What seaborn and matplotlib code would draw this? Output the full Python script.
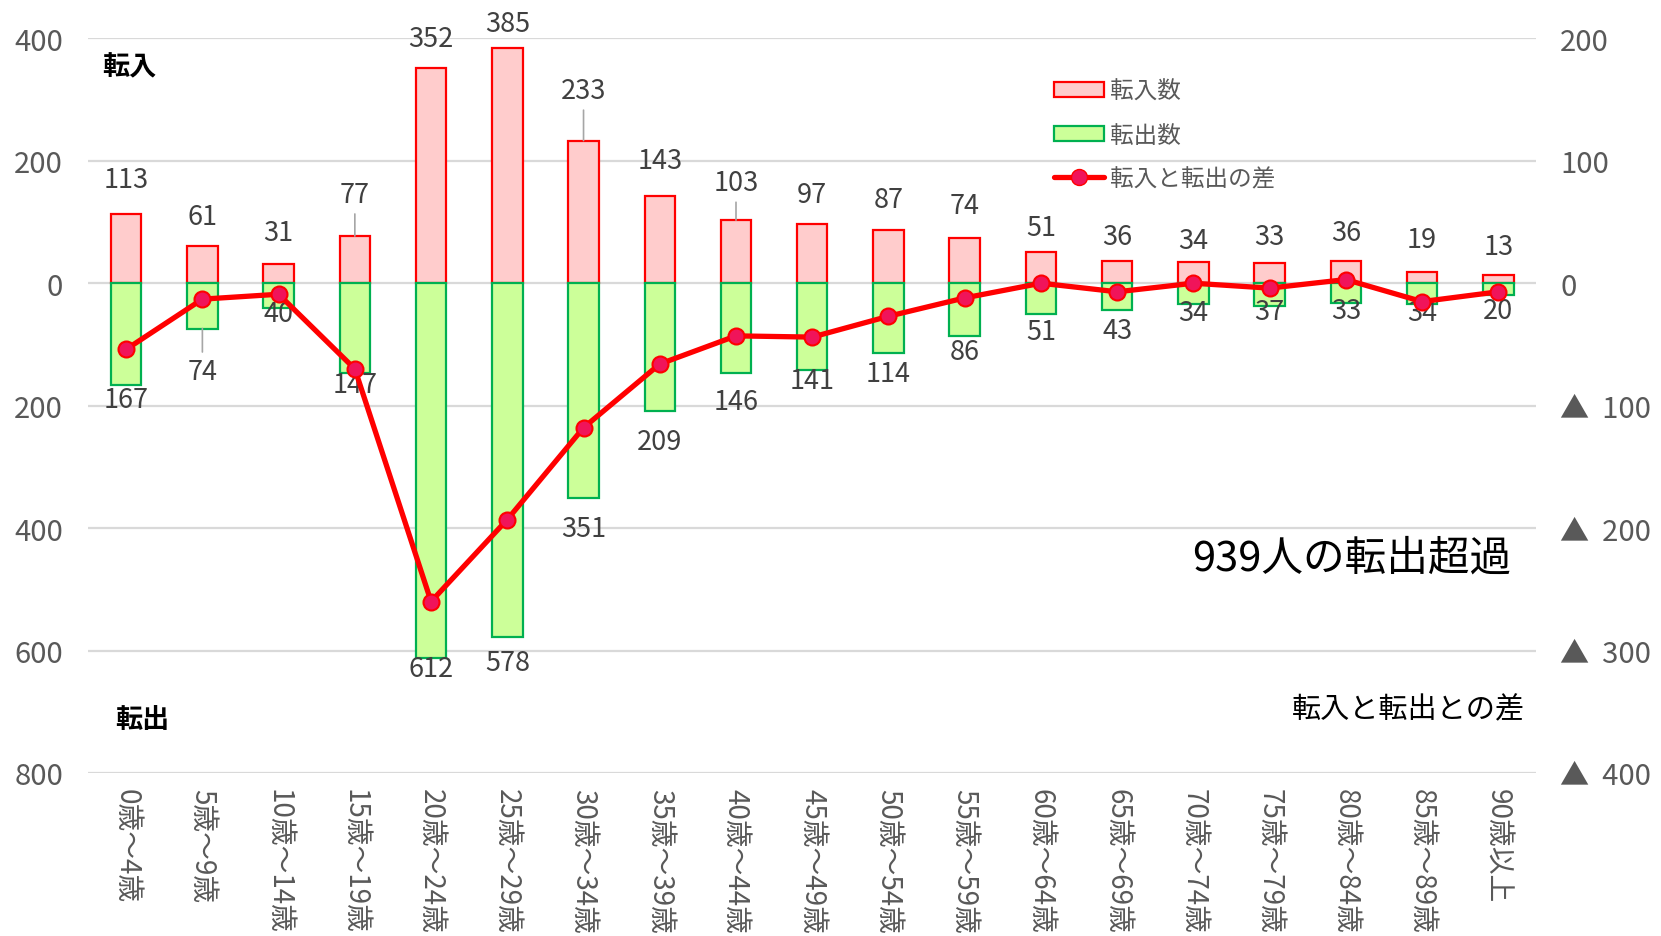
import numpy as np
import pandas as pd
import matplotlib
matplotlib.use("Agg")
import matplotlib.pyplot as plt
import seaborn as sns
from matplotlib.patches import Patch
from matplotlib.lines import Line2D
from matplotlib.ticker import FixedLocator, FixedFormatter

# ---- data ----
categories = ["0歳～4歳", "5歳～9歳", "10歳～14歳", "15歳～19歳", "20歳～24歳", "25歳～29歳",
              "30歳～34歳", "35歳～39歳", "40歳～44歳", "45歳～49歳", "50歳～54歳", "55歳～59歳",
              "60歳～64歳", "65歳～69歳", "70歳～74歳", "75歳～79歳", "80歳～84歳", "85歳～89歳",
              "90歳以上"]
inflow = [113, 61, 31, 77, 352, 385, 233, 143, 103, 97, 87, 74, 51, 36, 34, 33, 36, 19, 13]
outflow = [167, 74, 40, 147, 612, 578, 351, 209, 146, 141, 114, 86, 51, 43, 34, 37, 33, 34, 20]
difference = [i - o for i, o in zip(inflow, outflow)]

left_ticks = [400, 200, 0, -200, -400, -600, -800]
right_ticks = [200, 100, 0, -100, -200, -300, -400]

# label layout (offsets in points)
in_label_offset = [25, 21, 23, 30, 21, 17, 36, 25, 27, 21, 22, 23, 18, 18, 16, 19, 21, 23, 21]
out_label_offset = [10, 31, 4, 8, 8, 18, 22, 22, 21, 8, 15, 11, 12, 15, 6, 4, 5, 6, 11]
in_leader = {3, 6, 8}
out_leader = {1}

# ---- style ----
sns.set_style("white")
plt.rcParams['font.family'] = ['Noto Sans CJK JP', 'DejaVu Sans']

PINK = "#FFCCCC"
RED = "#FF0000"
GREEN_FILL = "#CCFF99"
GREEN_EDGE = "#00B050"
TICK_C = "#595959"
LABEL_C = "#404040"
MARK_FACE = "#F0145A"

fig = plt.figure(figsize=(16.61, 9.37), dpi=100)
ax = fig.add_axes([0.053, 0.174, 0.872, 0.784])

df = pd.DataFrame({"cat": categories, "in": inflow,
                   "out": [-v for v in outflow], "diff": difference})

sns.barplot(data=df, x="cat", y="in", ax=ax, color=PINK, edgecolor=RED,
            linewidth=1.6, width=0.4, saturation=1)
sns.barplot(data=df, x="cat", y="out", ax=ax, color=GREEN_FILL, edgecolor=GREEN_EDGE,
            linewidth=1.6, width=0.4, saturation=1)

ax.set_ylim(-800, 400)
ax.set_xlim(-0.5, len(categories) - 0.5)
ax.yaxis.set_major_locator(FixedLocator(left_ticks))
ax.yaxis.set_major_formatter(FixedFormatter([str(abs(v)) for v in left_ticks]))
ax.yaxis.grid(True, color="#D9D9D9", linewidth=1.6)
ax.set_axisbelow(True)
ax.set_xlabel("")
ax.set_ylabel("")
ax.tick_params(axis="y", length=0, pad=18, labelsize=21, labelcolor=TICK_C)
ax.tick_params(axis="x", length=0, pad=11, labelsize=20, labelcolor=TICK_C)
ax.set_xticks(range(len(categories)))
ax.set_xticklabels(categories, rotation=270, va="top", ha="center")
for s in ax.spines.values():
    s.set_visible(False)

# data labels
for i, v in enumerate(inflow):
    kw = {}
    if i in in_leader:
        kw["arrowprops"] = dict(arrowstyle="-", color="#A6A6A6", lw=1.2, shrinkA=2, shrinkB=0)
    ax.annotate(str(v), xy=(i, v), xytext=(0, in_label_offset[i]), textcoords="offset points",
                ha="center", va="center", fontsize=19.5, color=LABEL_C, **kw)
for i, v in enumerate(outflow):
    kw = {}
    if i in out_leader:
        kw["arrowprops"] = dict(arrowstyle="-", color="#A6A6A6", lw=1.2, shrinkA=2, shrinkB=0)
    ax.annotate(str(v), xy=(i, -v), xytext=(0, -out_label_offset[i]), textcoords="offset points",
                ha="center", va="center", fontsize=19.5, color=LABEL_C, **kw)

# difference line on secondary axis
ax2 = ax.twinx()
sns.pointplot(data=df, x="cat", y="diff", ax=ax2, color=RED, markers="o", linestyles="-",
              errorbar=None, linewidth=3.8, markersize=11.5, markerfacecolor=MARK_FACE,
              markeredgecolor=RED, markeredgewidth=1.5)
ax2.set_ylim(-400, 200)
ax2.set_xlim(-0.5, len(categories) - 0.5)
ax2.yaxis.set_major_locator(FixedLocator(right_ticks))
ax2.yaxis.set_major_formatter(FixedFormatter(
    [str(v) if v >= 0 else "▲  " + str(-v) for v in right_ticks]))
ax2.tick_params(axis="y", length=0, pad=17, labelsize=21, labelcolor=TICK_C)
ax2.set_xlabel("")
ax2.set_ylabel("")
ax2.grid(False)
for s in ax2.spines.values():
    s.set_visible(False)

# annotations
fig.text(0.078, 0.928, "転入", fontsize=19.5, color="black", ha="center", va="center", fontweight="bold")
fig.text(0.0855, 0.232, "転出", fontsize=19.5, color="black", ha="center", va="center", fontweight="bold")
fig.text(0.910, 0.403, "939人の転出超過", fontsize=30, color="black", ha="right", va="center")
fig.text(0.918, 0.242, "転入と転出との差", fontsize=21, color="black", ha="right", va="center")

handles = [Patch(facecolor=PINK, edgecolor=RED, linewidth=1.6),
           Patch(facecolor=GREEN_FILL, edgecolor=GREEN_EDGE, linewidth=1.6),
           Line2D([0], [0], color=RED, lw=3.8, marker="o", markersize=11.5,
                  markerfacecolor=MARK_FACE, markeredgecolor=RED)]
leg = fig.legend(handles, ["転入数", "転出数", "転入と転出の差"], loc="upper left",
                 bbox_to_anchor=(0.6346, 0.9135), frameon=False, fontsize=17,
                 handlelength=2.1, handleheight=0.62, labelspacing=0.87,
                 handletextpad=0.25, borderpad=0, borderaxespad=0)
for t in leg.get_texts():
    t.set_color(TICK_C)

fig.savefig("out.png", dpi=100)
